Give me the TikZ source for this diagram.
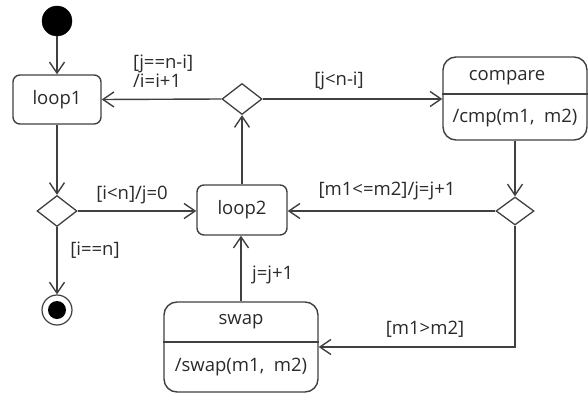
\documentclass[tikz,border=0pt]{standalone}
\usepackage{fontspec}
\setmainfont{Open Sans}
\usetikzlibrary{arrows.meta,shapes.geometric}
\definecolor{ln}{HTML}{404040}
\definecolor{tx}{HTML}{2a2a2a}
\tikzset{
  every node/.style={font=\fontsize{18.5}{19}\selectfont, text=tx},
  statebox/.style={draw=ln, line width=1.4pt, rounded corners=7pt, inner sep=0pt},
  bigbox/.style={draw=ln, line width=1.4pt, rounded corners=13pt, inner sep=0pt},
  choice/.style={draw=ln, line width=1.3pt, diamond, inner sep=0pt, minimum width=40pt, minimum height=31pt},
  arr/.style={draw=ln, line width=1.4pt, -{Straight Barb[length=11pt,width=15pt,line width=1.4pt]}},
  lbl/.style={inner sep=0pt}
}
\begin{document}
\begin{tikzpicture}[x=1pt,y=-1pt]
\useasboundingbox (0,0) rectangle (588,393);
% nodes
\node[circle, fill=black, draw=black, minimum size=30pt, inner sep=0pt] (start) at (57,21) {};
\node[statebox, minimum width=88pt, minimum height=49pt] (loop1) at (57,99.5) {loop1};
\node[choice] (td) at (242,99) {};
\node[bigbox, minimum width=144pt, minimum height=83pt] (cmp) at (515,98.5) {};
\node[lbl] (cmpname) at (507,78) {compare};
\node[lbl] (cmpact) at (515,118) {/cmp(m1,~~m2)};
\node[statebox, minimum width=90pt, minimum height=50pt] (loop2) at (242,210) {loop2};
\node[choice] (ld) at (57,211) {};
\node[choice, minimum width=38pt, minimum height=28pt] (rd) at (515,211) {};
\node[circle, draw=ln, line width=1.2pt, minimum size=30pt, inner sep=0pt] (endo) at (57,310) {};
\node[circle, fill=black, minimum size=18pt, inner sep=0pt] (endi) at (57,310) {};
\node[bigbox, minimum width=154pt, minimum height=90pt] (swap) at (241,347) {};
\node[lbl] (swapname) at (241,322) {swap};
\node[lbl] (swapact) at (241,367) {/swap(m1,~~m2)};
% dividers
\draw[ln, line width=1.4pt] (cmp.west |- 0,94) -- (cmp.east |- 0,94);
\draw[ln, line width=1.4pt] (swap.west |- 0,342) -- (swap.east |- 0,342);
% connectors
\draw[arr] (start) -- (loop1);
\draw[arr] (td.west) -- (loop1.east);
\draw[arr] (td.east) -- (cmp.west |- td.east);
\draw[arr] (cmp.south) -- (rd.north);
\draw[arr] (rd.west) -- (loop2.east |- rd.west);
\draw[arr] (loop1.south) -- (ld.north);
\draw[arr] (ld.east) -- (loop2.west |- ld.east);
\draw[arr] (ld.south) -- (endo.north);
\draw[arr] (loop2.north) -- (td.south);
\draw[arr] (swap.north) -- (swap.north |- loop2.south);
\draw[arr] (rd.south) |- (swap.east);
% labels
\node[lbl, anchor=west, align=left] (l1) at (133,71) {[j==n-i]\\/i=i+1};
\node[lbl] (l2) at (339,81) {[j<n-i]};
\node[lbl] (l3) at (132,195) {[i<n]/j=0};
\node[lbl] (l4) at (95,250) {[i==n]};
\node[lbl, anchor=west] (l5) at (252,275) {j=j+1};
\node[lbl] (l6) at (387,191) {[m1<=m2]/j=j+1};
\node[lbl] (l7) at (425,329) {[m1>m2]};
\end{tikzpicture}
\end{document}
